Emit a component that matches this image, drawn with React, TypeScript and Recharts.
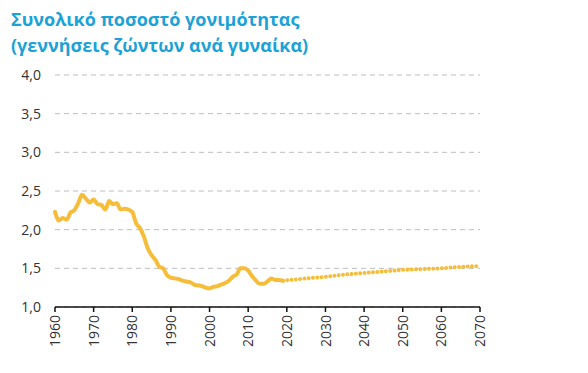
import { LineChart, Line, XAxis, YAxis, CartesianGrid } from "recharts";

const histYears = [
  1960, 1961, 1962, 1963, 1964, 1965, 1966, 1967, 1968, 1969,
  1970, 1971, 1972, 1973, 1974, 1975, 1976, 1977, 1978, 1979,
  1980, 1981, 1982, 1983, 1984, 1985, 1986, 1987, 1988, 1989,
  1990, 1991, 1992, 1993, 1994, 1995, 1996, 1997, 1998, 1999,
  2000, 2001, 2002, 2003, 2004, 2005, 2006, 2007, 2008, 2009,
  2010, 2011, 2012, 2013, 2014, 2015, 2016, 2017, 2018, 2019,
];
const histValues = [
  2.23, 2.12, 2.15, 2.13, 2.22, 2.25, 2.34, 2.45, 2.4, 2.35,
  2.39, 2.33, 2.32, 2.26, 2.37, 2.33, 2.34, 2.26, 2.27, 2.26,
  2.23, 2.08, 2.02, 1.91, 1.76, 1.67, 1.61, 1.52, 1.5, 1.41,
  1.38, 1.37, 1.36, 1.34, 1.33, 1.32, 1.29, 1.28, 1.27, 1.25,
  1.24, 1.26, 1.27, 1.29, 1.31, 1.34, 1.39, 1.42, 1.5, 1.5,
  1.47, 1.4, 1.34, 1.3, 1.3, 1.33, 1.37, 1.35, 1.35, 1.34,
];
const projYears = [2019, 2025, 2030, 2035, 2040, 2045, 2050, 2055, 2060, 2065, 2070];
const projValues = [1.34, 1.37, 1.39, 1.42, 1.44, 1.46, 1.48, 1.49, 1.5, 1.52, 1.53];

const xTicks = [1960, 1970, 1980, 1990, 2000, 2010, 2020, 2030, 2040, 2050, 2060, 2070];
const yTicks = [1, 1.5, 2, 2.5, 3, 3.5, 4];

const title = ["Συνολικό ποσοστό γονιμότητας", "(γεννήσεις ζώντων ανά γυναίκα)"];

const rows: { year: number; hist?: number; proj?: number }[] = [];
histYears.forEach((y, i) => rows.push({ year: y, hist: histValues[i] }));
projYears.forEach((y, i) => {
  const found = rows.find((r) => r.year === y);
  if (found) found.proj = projValues[i];
  else rows.push({ year: y, proj: projValues[i] });
});

const font = "'Open Sans', sans-serif";

function YearTick(props: any) {
  const { x, y, payload } = props;
  return (
    <g transform={`translate(${x},${y})`}>
      <text
        transform="rotate(-90)"
        textAnchor="end"
        dy="0.36em"
        fontSize={14}
        fontFamily={font}
        fill="#333"
      >
        {payload.value}
      </text>
    </g>
  );
}

export default function App() {
  return (
    <div
      style={{
        position: "absolute",
        top: 0,
        left: 0,
        width: 588,
        height: 373,
        background: "#fff",
      }}
    >
      <div
        style={{
          position: "absolute",
          left: 11,
          top: 6,
          fontFamily: font,
          fontWeight: 700,
          fontSize: 18,
          lineHeight: "26px",
          color: "#1ba2d6",
          whiteSpace: "nowrap",
        }}
      >
        {title.map((t) => (
          <div key={t}>{t}</div>
        ))}
      </div>
      <LineChart
        width={588}
        height={373}
        data={rows}
        margin={{ top: 75, right: 108, bottom: 16, left: 10 }}
      >
        <CartesianGrid
          vertical={false}
          stroke="#bdbdbd"
          strokeDasharray="5 4"
        />
        <XAxis
          dataKey="year"
          type="number"
          domain={[1960, 2070]}
          ticks={xTicks}
          interval={0}
          height={50}
          axisLine={{ stroke: "#111", strokeWidth: 1.5 }}
          tickLine={{ stroke: "#111", strokeWidth: 1.5 }}
          tickSize={5}
          tickMargin={3}
          tick={<YearTick />}
        />
        <YAxis
          type="number"
          domain={[1, 4]}
          ticks={yTicks}
          width={45}
          axisLine={false}
          tickLine={false}
          tickSize={0}
          tickMargin={14}
          tickFormatter={(v: number) => v.toFixed(1).replace(".", ",")}
          tick={{ fontSize: 14, fontFamily: font, fill: "#333" }}
        />
        <Line
          dataKey="hist"
          stroke="#f5bd3a"
          strokeWidth={4}
          dot={false}
          type="monotone"
          strokeLinejoin="round"
          strokeLinecap="round"
          isAnimationActive={false}
        />
        <Line
          dataKey="proj"
          stroke="#f5bd3a"
          strokeWidth={4}
          strokeDasharray="0.01 4.3"
          strokeLinecap="round"
          dot={false}
          connectNulls
          type="linear"
          isAnimationActive={false}
        />
      </LineChart>
    </div>
  );
}
